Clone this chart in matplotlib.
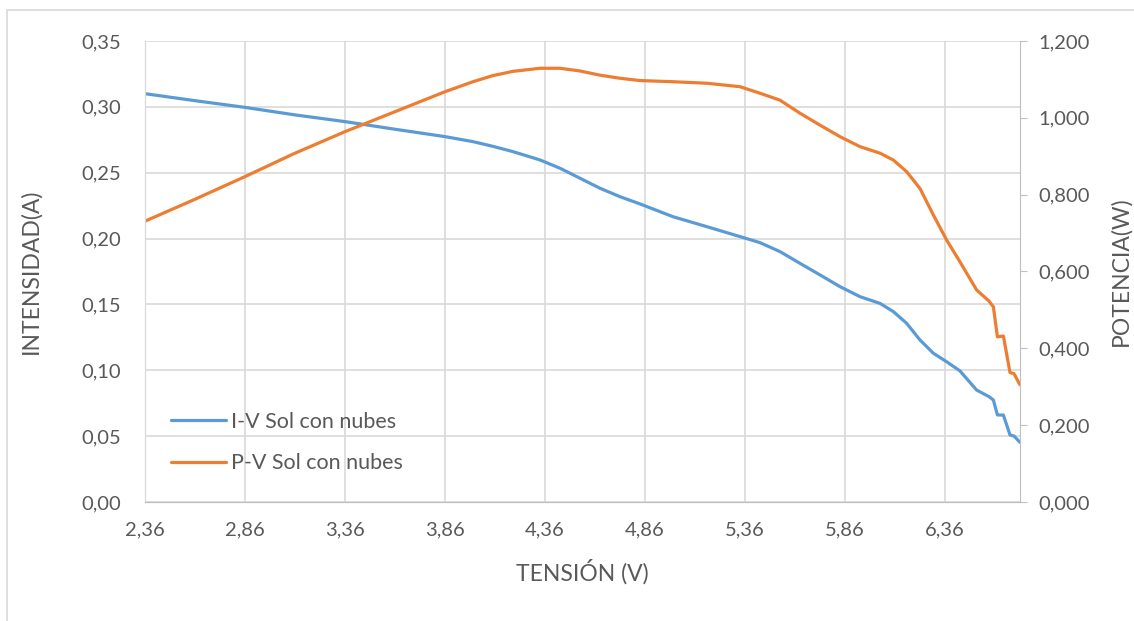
import matplotlib.pyplot as plt
from matplotlib.patches import Rectangle
from matplotlib.ticker import FuncFormatter, MultipleLocator

plt.rcParams['font.family'] = ['Lato', 'DejaVu Sans']

# datos
tension = [2.36, 2.61, 2.86, 3.11, 3.36, 3.61, 3.86, 4.00, 4.10, 4.20, 4.335,
           4.435, 4.535, 4.635, 4.735, 4.835, 5.00, 5.17, 5.335, 5.435, 5.535,
           5.635, 5.735, 5.835, 5.935, 6.035, 6.102, 6.168, 6.235, 6.302,
           6.368, 6.435, 6.518, 6.58, 6.602, 6.622, 6.652, 6.685, 6.705, 6.735]
intensidad = [0.3100, 0.3047, 0.2996, 0.2939, 0.2888, 0.2830, 0.2774, 0.2736,
              0.2700, 0.2660, 0.2597, 0.2534, 0.2458, 0.2382, 0.2318, 0.2263,
              0.2166, 0.2090, 0.2015, 0.1969, 0.1901, 0.1812, 0.1724, 0.1635,
              0.1559, 0.1508, 0.1445, 0.1357, 0.1230, 0.1129, 0.1065, 0.0995,
              0.0850, 0.0800, 0.0774, 0.0661, 0.0660, 0.0509, 0.0501, 0.0453]
potencia = [0.731, 0.788, 0.847, 0.908, 0.964, 1.016, 1.068, 1.094, 1.110,
            1.121, 1.129, 1.129, 1.122, 1.111, 1.103, 1.097, 1.094, 1.090,
            1.081, 1.064, 1.046, 1.012, 0.981, 0.951, 0.925, 0.908, 0.890,
            0.860, 0.816, 0.747, 0.682, 0.625, 0.552, 0.523, 0.508, 0.430,
            0.432, 0.337, 0.334, 0.305]

azul = '#5B9BD5'
naranja = '#ED7D31'
gris = '#595959'
rejilla = '#D9D9D9'

fig = plt.figure(figsize=(11.34, 6.21), dpi=100)
ax = fig.add_axes([145/1134, 119/621, 875/1134, 461/621])
ax2 = ax.twinx()

# marco exterior del grafico
fig.patches.append(Rectangle((7/1134, -0.05), 1.2, 1.05 - 10/621,
                             transform=fig.transFigure, fill=False,
                             edgecolor=rejilla, lw=1.2))

l1, = ax.plot(tension, intensidad, color=azul, lw=2.3,
              solid_joinstyle='round', solid_capstyle='round',
              label='I-V Sol con nubes')
l2, = ax2.plot(tension, potencia, color=naranja, lw=2.3,
               solid_joinstyle='round', solid_capstyle='round',
               label='P-V Sol con nubes')

ax.set_xlim(2.36, 6.735)
ax.set_ylim(0, 0.35)
ax2.set_ylim(0, 1.2)

ax.set_xticks([2.36 + 0.5*k for k in range(9)])
ax.yaxis.set_major_locator(MultipleLocator(0.05))
ax2.yaxis.set_major_locator(MultipleLocator(0.2))

ax.xaxis.set_major_formatter(FuncFormatter(lambda v, p: f'{v:.2f}'.replace('.', ',')))
ax.yaxis.set_major_formatter(FuncFormatter(lambda v, p: f'{v:.2f}'.replace('.', ',')))
ax2.yaxis.set_major_formatter(FuncFormatter(lambda v, p: f'{v:.3f}'.replace('.', ',')))

ax.grid(True, color=rejilla, lw=1.2)
ax.set_axisbelow(True)

ax.tick_params(axis='y', length=0, labelsize=14.5, labelcolor=gris, pad=17)
ax.tick_params(axis='x', length=0, labelsize=14.5, labelcolor=gris, pad=14)
ax2.tick_params(axis='y', length=5, color='#BFBFBF', labelsize=14.5,
                labelcolor=gris, pad=8)

for a in (ax, ax2):
    a.spines['top'].set_visible(False)
    a.spines['left'].set_color(rejilla)
    a.spines['bottom'].set_color('#BFBFBF')
    a.spines['right'].set_color('#BFBFBF')
ax.spines['right'].set_visible(False)

ax.set_xlabel('TENSIÓN (V)', fontsize=16.5, color=gris, labelpad=15)
ax.set_ylabel('INTENSIDAD(A)', fontsize=16.5, color=gris, labelpad=29)
ax2.set_ylabel('POTENCIA(W)', fontsize=16.5, color=gris, labelpad=15)

ax2.legend(handles=[l1, l2], loc='lower left', bbox_to_anchor=(0.007, 0.02),
           frameon=False, fontsize=15.5, labelcolor=gris, handlelength=2.6,
           handletextpad=0.2, labelspacing=1.0)

fig.savefig('out.png', dpi=100)
